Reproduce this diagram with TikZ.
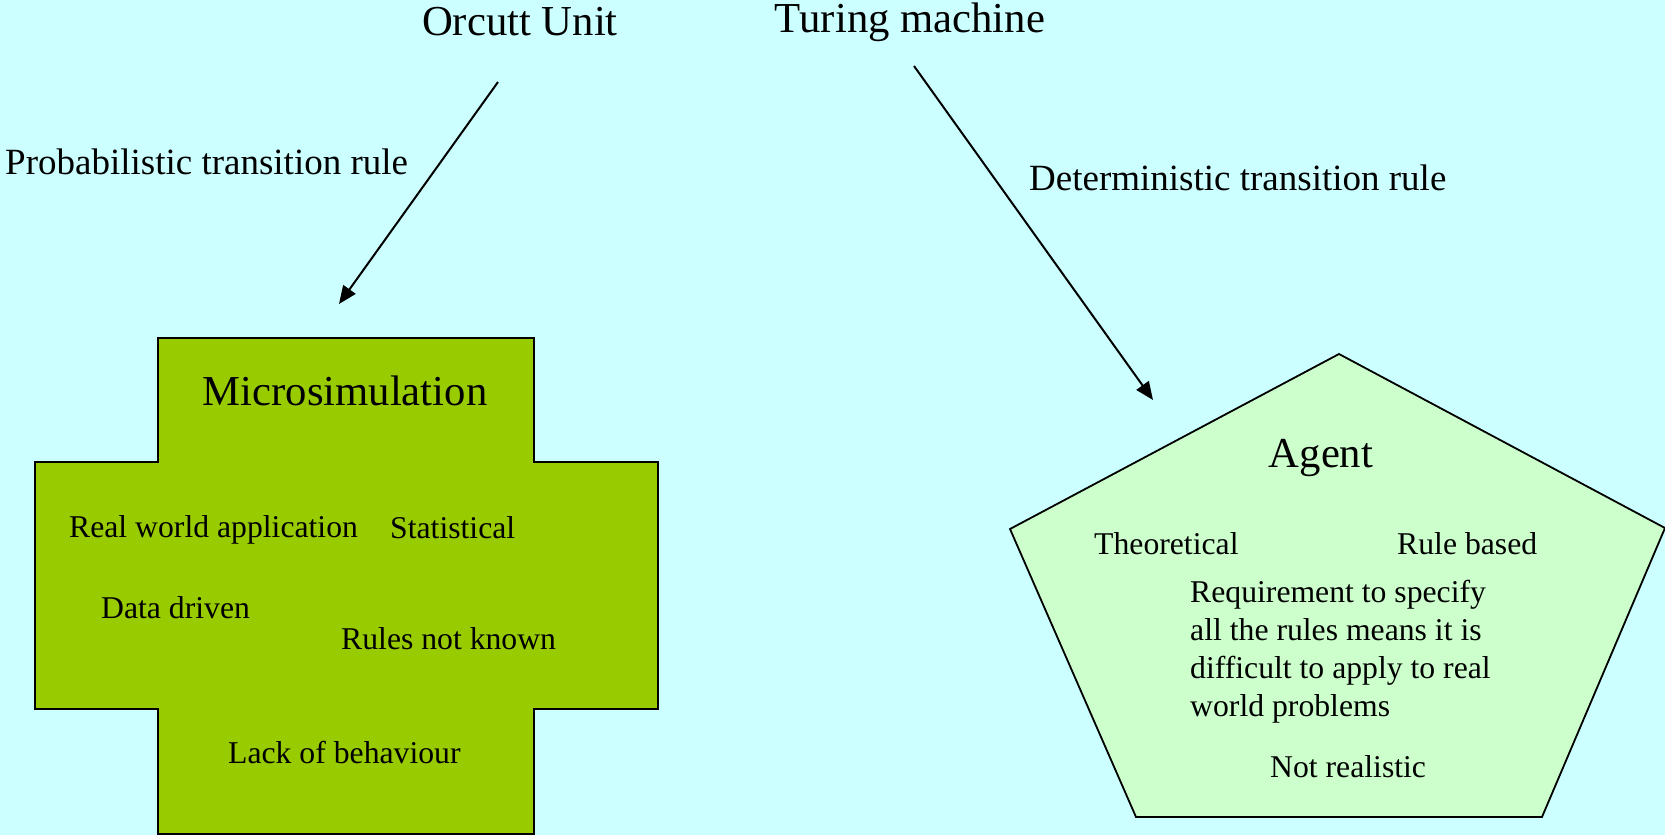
\documentclass[tikz,border=0pt]{standalone}
\usepackage{fontspec}
\setmainfont{Liberation Serif}
\usetikzlibrary{arrows.meta}
\definecolor{sky}{HTML}{CCFFFF}
\definecolor{microgreen}{HTML}{99CC00}
\definecolor{agentgreen}{HTML}{CCFFCC}

\begin{document}
\begin{tikzpicture}[x=1pt, y=-1pt, every node/.style={inner sep=0pt, font=\fontsize{31.7}{38}\selectfont}, heading/.style={font=\fontsize{42.7}{50}\selectfont}, rulelabel/.style={font=\fontsize{37}{44}\selectfont}, arrow/.style={line width=2pt, -{Triangle[length=18pt, width=15pt]}}, shapeline/.style={draw=black, line width=1.8pt}]
\fill[sky] (0,0) rectangle (1665,835);
\useasboundingbox (0,0) rectangle (1665,835);
% the two shapes
\draw[shapeline, fill=microgreen] (158,338) -- (534,338) -- (534,462) -- (658,462) -- (658,709) -- (534,709) -- (534,834) -- (158,834) -- (158,709) -- (35,709) -- (35,462) -- (158,462) -- cycle;
\draw[shapeline, fill=agentgreen] (1339,354) -- (1665,528) -- (1542,817) -- (1136,817) -- (1010,529) -- cycle;
% titles
\node[heading] (orcutt) at (520,22) {Orcutt Unit};
\node[heading] (turing) at (910,22) {Turing machine};
\node[rulelabel, anchor=west] (prob) at (5,162) {Probabilistic transition rule};
\node[rulelabel, anchor=west] (det) at (1029,178) {Deterministic transition rule};
% microsimulation
\node[heading] (micro) at (345,391) {Microsimulation};
\node[anchor=west] (realworld) at (69,530) {Real world application};
\node[anchor=west] (statistical) at (390,528) {Statistical};
\node[anchor=west] (datadriven) at (101,608) {Data driven};
\node[anchor=west] (rulesnot) at (341,639) {Rules not known};
\node[anchor=west] (lack) at (228,752) {Lack of behaviour};
% agent
\node[heading] (agent) at (1321,458) {Agent};
\node[anchor=west] (theoretical) at (1094,544) {Theoretical};
\node[anchor=west] (rulebased) at (1397,544) {Rule based};
\node[anchor=west, align=left] (requirement) at (1190,652) {Requirement to specify\\all the rules means it is\\difficult to apply to real\\world problems};
\node[anchor=west] (notreal) at (1270,767) {Not realistic};
% arrows
\coordinate (orcutt-tail) at (498,82);
\coordinate (micro-head) at (339,304);
\coordinate (turing-tail) at (914,66);
\coordinate (agent-head) at (1153,400);
\draw[arrow] (orcutt-tail) -- (micro-head);
\draw[arrow] (turing-tail) -- (agent-head);
\end{tikzpicture}
\end{document}
